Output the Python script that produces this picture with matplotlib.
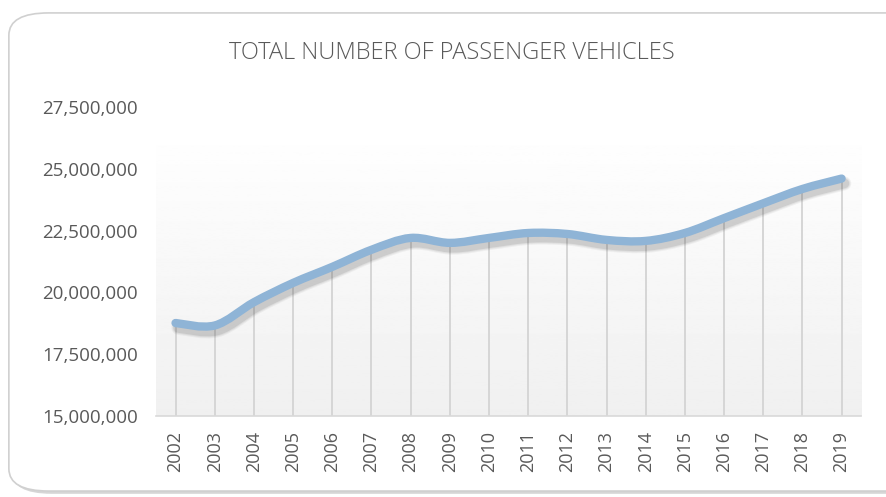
import matplotlib.pyplot as plt
import matplotlib.patheffects as pe
import numpy as np
from matplotlib.path import Path
from matplotlib.patches import PathPatch, FancyBboxPatch
from matplotlib.ticker import FuncFormatter

years = ['2002', '2003', '2004', '2005', '2006', '2007', '2008', '2009', '2010',
         '2011', '2012', '2013', '2014', '2015', '2016', '2017', '2018', '2019']
vehicles = [18760000, 18660000, 19600000, 20380000, 21030000, 21720000, 22200000,
            22000000, 22200000, 22400000, 22360000, 22120000, 22080000, 22400000,
            23000000, 23600000, 24180000, 24600000]

txt = '#595959'
fig = plt.figure(figsize=(8.86, 4.97), dpi=100)

# rounded chart frame
frame = FancyBboxPatch((0.010, 0.012), 1.05, 0.962, boxstyle='round,pad=0,rounding_size=0.045',
                       transform=fig.transFigure, facecolor='white', edgecolor='#d0d0d0',
                       linewidth=1.2, zorder=-5,
                       path_effects=[pe.SimplePatchShadow(offset=(2, -2), shadow_rgbFace='#bbbbbb', alpha=0.6),
                                     pe.Normal()])
fig.patches.append(frame)

ax = fig.add_axes([0.176, 0.163, 0.796, 0.622])
ax.set_facecolor('none')
x = np.arange(len(years))
ax.set_xlim(-0.5, len(years) - 0.5)
ax.set_ylim(15000000, 27500000)

# plot area gradient (light grey at the bottom, white at the top)
grad = np.linspace(0.94, 1.0, 256).reshape(-1, 1)
ax.imshow(grad, cmap='gray', vmin=0, vmax=1, origin='lower', aspect='auto',
          extent=(-0.5, len(years) - 0.5, 15000000, 26700000), zorder=0)

# drop lines
ax.vlines(x, 15000000, vehicles, color='#d6d6d6', linewidth=1.4, zorder=1)

# smoothed line (cubic bezier through the data points)
y = np.array(vehicles, dtype=float)
verts = [(x[0], y[0])]
codes = [Path.MOVETO]
t = 1 / 6
for i in range(len(x) - 1):
    p0 = (x[i - 1], y[i - 1]) if i > 0 else (x[i], y[i])
    p1 = (x[i], y[i])
    p2 = (x[i + 1], y[i + 1])
    p3 = (x[i + 2], y[i + 2]) if i + 2 < len(x) else p2
    c1 = (p1[0] + (p2[0] - p0[0]) * t, p1[1] + (p2[1] - p0[1]) * t)
    c2 = (p2[0] - (p3[0] - p1[0]) * t, p2[1] - (p3[1] - p1[1]) * t)
    verts += [c1, c2, p2]
    codes += [Path.CURVE4] * 3

# soft shadow: several wide, faint strokes below the line
shadow = []
for lw, a in [(10, 0.06), (8.5, 0.08), (7, 0.12)]:
    shadow.append(pe.SimpleLineShadow(offset=(2, -3.5), shadow_color='#404040', alpha=a, linewidth=lw))
curve = PathPatch(Path(verts, codes), facecolor='none', edgecolor='#8fb4d6', linewidth=6,
                  capstyle='round', joinstyle='round', zorder=3,
                  path_effects=shadow + [pe.Normal()])
ax.add_patch(curve)

for s in ['top', 'right', 'left']:
    ax.spines[s].set_visible(False)
ax.spines['bottom'].set_color('#d9d9d9')
ax.spines['bottom'].set_linewidth(1.2)
ax.spines['bottom'].set_zorder(2)

ax.set_xticks(x)
ax.set_xticklabels(years, rotation=90, fontsize=13, color=txt, family='Open Sans')
ax.set_yticks(np.arange(15000000, 27500001, 2500000))
ax.yaxis.set_major_formatter(FuncFormatter(lambda v, p: f'{int(v):,}'))
for lab in ax.get_yticklabels():
    lab.set_family('Open Sans')
    lab.set_fontsize(13.5)
    lab.set_color(txt)
ax.tick_params(length=0)
ax.tick_params(axis='x', pad=11)
ax.tick_params(axis='y', pad=13)

fig.text(0.51, 0.893, 'TOTAL NUMBER OF PASSENGER VEHICLES', ha='center', va='center',
         fontsize=17, color=txt, family='Open Sans', fontweight='light')

fig.savefig('out.png', dpi=100)
